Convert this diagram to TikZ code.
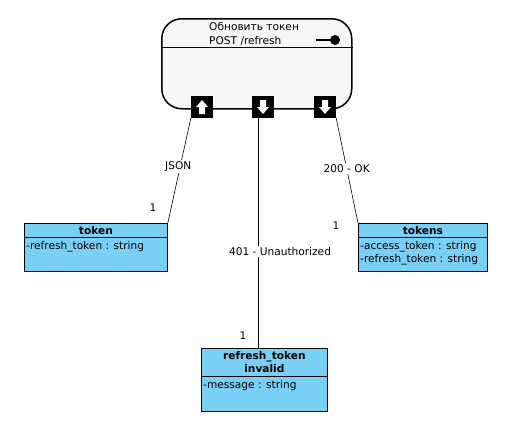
\documentclass[tikz,border=0pt]{standalone}
\usepackage{fontspec}
\setmainfont{DejaVu Sans}
\usetikzlibrary{calc}
\definecolor{clsblue}{RGB}{122,207,245}
\definecolor{compgray}{RGB}{246,246,246}
\tikzset{
  comp/.style = {draw=black, line width=1.5pt, fill=compgray, rounded corners=20pt, anchor=north west},
  cls/.style = {draw=black, line width=0.8pt, fill=clsblue, anchor=north west, inner sep=0pt},
  port/.style = {fill=black, minimum size=22pt, inner sep=0pt},
  lbl/.style = {fill=white, inner sep=1.5pt, font=\fontsize{10.6}{12}\selectfont},
  txt/.style = {inner sep=1pt, font=\fontsize{10.6}{14}\selectfont},
  conn/.style = {draw=black, line width=0.6pt}
}
\begin{document}
\begin{tikzpicture}[x=1pt, y=-1pt]
\useasboundingbox (0,0) rectangle (513,423);
% component
\node[comp, minimum width=190pt, minimum height=90pt] (upd) at (161,18) {};
\draw[line width=0.8pt] ($(upd.north west)+(0,29)$) -- ($(upd.north east)+(0,29)$);
\node[txt, align=left, anchor=north west] (updtxt) at (208,21) {Обновить токен\\POST /refresh};
\draw[line width=1.2pt] (316,40) -- (330,40);
\fill (335,40) circle (5);
% ports
\node[port] (pin) at (202,107) {};
\node[port] (pout) at (263,107) {};
\node[port] (pok) at (325,107) {};
\fill[white] ($(pin.center)+(0,-7)$) -- ($(pin.center)+(6,0)$) -- ($(pin.center)+(3,0)$) -- ($(pin.center)+(3,7)$)
  -- ($(pin.center)+(-3,7)$) -- ($(pin.center)+(-3,0)$) -- ($(pin.center)+(-6,0)$) -- cycle;
\foreach \p in {pout,pok}
  \fill[white] ($(\p.center)+(0,7)$) -- ($(\p.center)+(6,0)$) -- ($(\p.center)+(3,0)$) -- ($(\p.center)+(3,-7)$)
    -- ($(\p.center)+(-3,-7)$) -- ($(\p.center)+(-3,0)$) -- ($(\p.center)+(-6,0)$) -- cycle;
% classes
\node[cls, minimum width=143pt, minimum height=48pt] (tok) at (24,223) {};
\draw[line width=0.8pt] ($(tok.north west)+(0,14)$) -- ($(tok.north east)+(0,14)$);
\node[txt, font=\fontsize{10.6}{12}\bfseries] (tokname) at ($(tok.north)+(0,7.5)$) {token};
\node[txt, anchor=north west] (tokattr) at ($(tok.north west)+(1,17)$) {-refresh\_token : string};

\node[cls, minimum width=129pt, minimum height=48pt] (toks) at (358,223) {};
\draw[line width=0.8pt] ($(toks.north west)+(0,14)$) -- ($(toks.north east)+(0,14)$);
\node[txt, font=\fontsize{10.6}{12}\bfseries] (toksname) at ($(toks.north)+(0,7.5)$) {tokens};
\node[txt, anchor=north west, align=left, font=\fontsize{10.6}{13}\selectfont] (toksattr) at ($(toks.north west)+(1,17)$) {-access\_token : string\\-refresh\_token : string};

\node[cls, minimum width=126pt, minimum height=63pt] (inv) at (201,348) {};
\draw[line width=0.8pt] ($(inv.north west)+(0,28)$) -- ($(inv.north east)+(0,28)$);
\node[txt, align=center, font=\fontsize{10.6}{13}\bfseries] (invname) at ($(inv.north)+(0,14.5)$) {refresh\_token\\invalid};
\node[txt, anchor=north west] (invattr) at ($(inv.north west)+(1,31)$) {-message : string};
% connectors
\draw[conn] (pin.south west) -- node[lbl, pos=0.46, xshift=-2pt] {JSON} (tok.north east);
\draw[conn] ([xshift=-5pt]pout.south) -- node[lbl, pos=0.58, xshift=22pt] {401 - Unauthorized} ([xshift=-5pt]pout.south |- inv.north);
\draw[conn] (pok.south east) -- node[lbl, pos=0.48] {200 - OK} (toks.north west);
\node[lbl] (m1) at (153,208) {1};
\node[lbl] (m2) at (336,226) {1};
\node[lbl] (m3) at (243,336) {1};
\end{tikzpicture}
\end{document}
